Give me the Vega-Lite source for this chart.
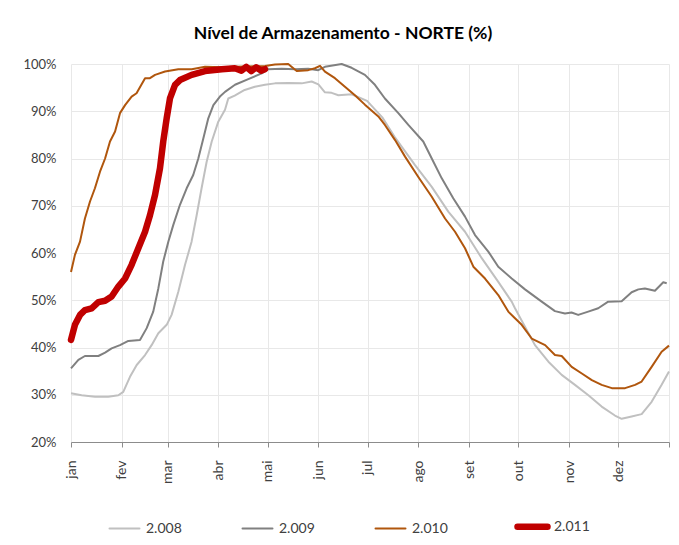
{
  "$schema": "https://vega.github.io/schema/vega-lite/v6.json",
  "autosize": {"type": "none"},
  "width": 598,
  "height": 378,
  "padding": {"left": 71, "top": 64, "right": 10, "bottom": 103},
  "background": "white",
  "title": {
    "text": "Nível de Armazenamento - NORTE (%)",
    "font": "Lato",
    "fontSize": 17.5,
    "fontWeight": "bold",
    "color": "#000000",
    "anchor": "middle",
    "frame": "group",
    "dx": -27,
    "offset": 16
  },
  "config": {
    "view": {"stroke": null},
    "axis": {"labelFont": "Lato", "labelFontSize": 13, "labelColor": "#404040", "gridColor": "#e8e8e8", "gridWidth": 1},
    "legend": {"labelFont": "Lato", "labelFontSize": 14, "labelColor": "#404040"}
  },
  "data": {
    "values": [
      {"s": "2.008", "d": 0, "v": 30.3}, {"s": "2.008", "d": 6.5, "v": 29.9}, {"s": "2.008", "d": 14.6, "v": 29.6}, {"s": "2.008", "d": 22.8, "v": 29.6}, {"s": "2.008", "d": 28.9, "v": 29.9}, {"s": "2.008", "d": 31.9, "v": 30.6}, {"s": "2.008", "d": 36, "v": 33.8}, {"s": "2.008", "d": 40.1, "v": 36.3}, {"s": "2.008", "d": 45.2, "v": 38.4}, {"s": "2.008", "d": 49.2, "v": 40.5}, {"s": "2.008", "d": 53.3, "v": 43.0}, {"s": "2.008", "d": 58.4, "v": 44.8}, {"s": "2.008", "d": 61.4, "v": 46.9}, {"s": "2.008", "d": 65.5, "v": 51.8}, {"s": "2.008", "d": 69.6, "v": 57.5}, {"s": "2.008", "d": 73.6, "v": 62.4}, {"s": "2.008", "d": 76.7, "v": 68.0}, {"s": "2.008", "d": 79.7, "v": 73.7}, {"s": "2.008", "d": 82.8, "v": 79.3}, {"s": "2.008", "d": 85.9, "v": 83.6}, {"s": "2.008", "d": 89.9, "v": 87.8}, {"s": "2.008", "d": 94, "v": 90.3}, {"s": "2.008", "d": 96, "v": 92.7}, {"s": "2.008", "d": 99.9, "v": 93.3}, {"s": "2.008", "d": 106, "v": 94.5}, {"s": "2.008", "d": 112.2, "v": 95.2}, {"s": "2.008", "d": 118.4, "v": 95.6}, {"s": "2.008", "d": 124.5, "v": 95.9}, {"s": "2.008", "d": 132.6, "v": 96.0}, {"s": "2.008", "d": 140.8, "v": 95.9}, {"s": "2.008", "d": 146.9, "v": 96.3}, {"s": "2.008", "d": 151, "v": 95.7}, {"s": "2.008", "d": 155, "v": 94.0}, {"s": "2.008", "d": 159.1, "v": 93.9}, {"s": "2.008", "d": 163.2, "v": 93.4}, {"s": "2.008", "d": 171.3, "v": 93.6}, {"s": "2.008", "d": 180.7, "v": 92.2}, {"s": "2.008", "d": 190, "v": 88.7}, {"s": "2.008", "d": 197.5, "v": 84.6}, {"s": "2.008", "d": 201.8, "v": 82.5}, {"s": "2.008", "d": 210, "v": 78.6}, {"s": "2.008", "d": 220.2, "v": 74.0}, {"s": "2.008", "d": 230.4, "v": 68.7}, {"s": "2.008", "d": 240.5, "v": 64.5}, {"s": "2.008", "d": 250.7, "v": 58.9}, {"s": "2.008", "d": 260.8, "v": 53.9}, {"s": "2.008", "d": 269, "v": 49.7}, {"s": "2.008", "d": 271, "v": 48.3}, {"s": "2.008", "d": 277.1, "v": 44.4}, {"s": "2.008", "d": 283.2, "v": 40.5}, {"s": "2.008", "d": 291.4, "v": 37.0}, {"s": "2.008", "d": 299.5, "v": 34.2}, {"s": "2.008", "d": 307.6, "v": 32.1}, {"s": "2.008", "d": 315.8, "v": 29.9}, {"s": "2.008", "d": 323.9, "v": 27.5}, {"s": "2.008", "d": 332, "v": 25.6}, {"s": "2.008", "d": 336.1, "v": 24.9}, {"s": "2.008", "d": 342.2, "v": 25.4}, {"s": "2.008", "d": 348.3, "v": 25.9}, {"s": "2.008", "d": 354.4, "v": 28.5}, {"s": "2.008", "d": 360.5, "v": 32.1}, {"s": "2.008", "d": 365, "v": 34.9},

      {"s": "2.009", "d": 0, "v": 35.6}, {"s": "2.009", "d": 4.5, "v": 37.4}, {"s": "2.009", "d": 8.5, "v": 38.2}, {"s": "2.009", "d": 16.7, "v": 38.2}, {"s": "2.009", "d": 20.8, "v": 38.9}, {"s": "2.009", "d": 24.8, "v": 39.8}, {"s": "2.009", "d": 29.9, "v": 40.5}, {"s": "2.009", "d": 35, "v": 41.4}, {"s": "2.009", "d": 42.1, "v": 41.6}, {"s": "2.009", "d": 46.2, "v": 44.1}, {"s": "2.009", "d": 50.2, "v": 47.6}, {"s": "2.009", "d": 53.3, "v": 52.5}, {"s": "2.009", "d": 56.3, "v": 58.2}, {"s": "2.009", "d": 59.4, "v": 62.4}, {"s": "2.009", "d": 62.4, "v": 65.9}, {"s": "2.009", "d": 66.5, "v": 70.2}, {"s": "2.009", "d": 70.6, "v": 73.7}, {"s": "2.009", "d": 74.6, "v": 76.5}, {"s": "2.009", "d": 77.7, "v": 80.0}, {"s": "2.009", "d": 80.8, "v": 84.3}, {"s": "2.009", "d": 83.8, "v": 88.5}, {"s": "2.009", "d": 86.9, "v": 91.3}, {"s": "2.009", "d": 90.9, "v": 93.1}, {"s": "2.009", "d": 94, "v": 94.1}, {"s": "2.009", "d": 100.1, "v": 95.6}, {"s": "2.009", "d": 108.2, "v": 96.8}, {"s": "2.009", "d": 116.4, "v": 98.0}, {"s": "2.009", "d": 120.4, "v": 98.9}, {"s": "2.009", "d": 128.6, "v": 99.0}, {"s": "2.009", "d": 136.7, "v": 98.9}, {"s": "2.009", "d": 144.8, "v": 99.0}, {"s": "2.009", "d": 150.9, "v": 98.7}, {"s": "2.009", "d": 155, "v": 99.4}, {"s": "2.009", "d": 165.2, "v": 100.0}, {"s": "2.009", "d": 171.3, "v": 99.2}, {"s": "2.009", "d": 179.4, "v": 97.7}, {"s": "2.009", "d": 185.5, "v": 95.6}, {"s": "2.009", "d": 191.6, "v": 92.7}, {"s": "2.009", "d": 199.8, "v": 89.6}, {"s": "2.009", "d": 205.9, "v": 87.1}, {"s": "2.009", "d": 215, "v": 83.6}, {"s": "2.009", "d": 220.2, "v": 80.0}, {"s": "2.009", "d": 226.3, "v": 75.8}, {"s": "2.009", "d": 233.3, "v": 71.6}, {"s": "2.009", "d": 240.5, "v": 67.7}, {"s": "2.009", "d": 246.6, "v": 63.8}, {"s": "2.009", "d": 254.7, "v": 60.3}, {"s": "2.009", "d": 260.8, "v": 57.1}, {"s": "2.009", "d": 269, "v": 54.6}, {"s": "2.009", "d": 277.1, "v": 52.3}, {"s": "2.009", "d": 287.3, "v": 49.7}, {"s": "2.009", "d": 295.4, "v": 47.7}, {"s": "2.009", "d": 301.5, "v": 47.2}, {"s": "2.009", "d": 305.5, "v": 47.4}, {"s": "2.009", "d": 309.6, "v": 46.9}, {"s": "2.009", "d": 315.7, "v": 47.6}, {"s": "2.009", "d": 321.8, "v": 48.3}, {"s": "2.009", "d": 327.9, "v": 49.7}, {"s": "2.009", "d": 336.1, "v": 49.8}, {"s": "2.009", "d": 342.2, "v": 51.7}, {"s": "2.009", "d": 346.3, "v": 52.3}, {"s": "2.009", "d": 350.3, "v": 52.5}, {"s": "2.009", "d": 356.4, "v": 52.0}, {"s": "2.009", "d": 361.5, "v": 53.8}, {"s": "2.009", "d": 363.6, "v": 53.6},

      {"s": "2.010", "d": 0, "v": 56.0}, {"s": "2.010", "d": 2.4, "v": 59.6}, {"s": "2.010", "d": 5.5, "v": 62.4}, {"s": "2.010", "d": 8.5, "v": 67.3}, {"s": "2.010", "d": 11.6, "v": 70.9}, {"s": "2.010", "d": 14.6, "v": 73.7}, {"s": "2.010", "d": 17.7, "v": 77.2}, {"s": "2.010", "d": 20.8, "v": 80.0}, {"s": "2.010", "d": 23.8, "v": 83.6}, {"s": "2.010", "d": 26.9, "v": 85.7}, {"s": "2.010", "d": 29.9, "v": 89.6}, {"s": "2.010", "d": 33, "v": 91.3}, {"s": "2.010", "d": 37, "v": 93.1}, {"s": "2.010", "d": 40, "v": 93.8}, {"s": "2.010", "d": 45.2, "v": 97.0}, {"s": "2.010", "d": 48.2, "v": 97.0}, {"s": "2.010", "d": 51.3, "v": 97.7}, {"s": "2.010", "d": 57.4, "v": 98.4}, {"s": "2.010", "d": 65.5, "v": 98.9}, {"s": "2.010", "d": 73.7, "v": 98.9}, {"s": "2.010", "d": 81.8, "v": 99.4}, {"s": "2.010", "d": 92, "v": 99.3}, {"s": "2.010", "d": 100.1, "v": 99.4}, {"s": "2.010", "d": 118.4, "v": 99.6}, {"s": "2.010", "d": 124.5, "v": 99.9}, {"s": "2.010", "d": 132.6, "v": 100.0}, {"s": "2.010", "d": 135.7, "v": 99.1}, {"s": "2.010", "d": 137.8, "v": 98.5}, {"s": "2.010", "d": 144.8, "v": 98.7}, {"s": "2.010", "d": 148.9, "v": 99.1}, {"s": "2.010", "d": 152, "v": 99.6}, {"s": "2.010", "d": 155, "v": 98.4}, {"s": "2.010", "d": 161.1, "v": 97.0}, {"s": "2.010", "d": 167.2, "v": 95.2}, {"s": "2.010", "d": 173.3, "v": 93.4}, {"s": "2.010", "d": 179.4, "v": 91.4}, {"s": "2.010", "d": 187.6, "v": 88.9}, {"s": "2.010", "d": 191.6, "v": 87.1}, {"s": "2.010", "d": 197.8, "v": 83.9}, {"s": "2.010", "d": 203.9, "v": 80.4}, {"s": "2.010", "d": 212, "v": 76.1}, {"s": "2.010", "d": 220.2, "v": 71.9}, {"s": "2.010", "d": 228.3, "v": 67.3}, {"s": "2.010", "d": 234.4, "v": 64.5}, {"s": "2.010", "d": 240.5, "v": 61.0}, {"s": "2.010", "d": 245.6, "v": 57.1}, {"s": "2.010", "d": 252.7, "v": 54.6}, {"s": "2.010", "d": 260.8, "v": 51.1}, {"s": "2.010", "d": 266.9, "v": 47.6}, {"s": "2.010", "d": 271, "v": 46.2}, {"s": "2.010", "d": 275.1, "v": 44.8}, {"s": "2.010", "d": 281.2, "v": 41.9}, {"s": "2.010", "d": 289.4, "v": 40.5}, {"s": "2.010", "d": 295.4, "v": 38.4}, {"s": "2.010", "d": 299.5, "v": 38.2}, {"s": "2.010", "d": 305.6, "v": 35.9}, {"s": "2.010", "d": 311.8, "v": 34.5}, {"s": "2.010", "d": 317.9, "v": 33.1}, {"s": "2.010", "d": 323.9, "v": 32.1}, {"s": "2.010", "d": 330.1, "v": 31.4}, {"s": "2.010", "d": 338.2, "v": 31.4}, {"s": "2.010", "d": 344.3, "v": 32.1}, {"s": "2.010", "d": 348.3, "v": 32.8}, {"s": "2.010", "d": 354.4, "v": 35.9}, {"s": "2.010", "d": 360.5, "v": 39.1}, {"s": "2.010", "d": 365, "v": 40.4},

      {"s": "2.011", "d": 0, "v": 41.6}, {"s": "2.011", "d": 2.4, "v": 44.8}, {"s": "2.011", "d": 5.5, "v": 46.9}, {"s": "2.011", "d": 8.5, "v": 47.9}, {"s": "2.011", "d": 12.6, "v": 48.3}, {"s": "2.011", "d": 16.7, "v": 49.6}, {"s": "2.011", "d": 20.8, "v": 49.9}, {"s": "2.011", "d": 24.8, "v": 50.8}, {"s": "2.011", "d": 28.9, "v": 52.9}, {"s": "2.011", "d": 33, "v": 54.6}, {"s": "2.011", "d": 37, "v": 57.5}, {"s": "2.011", "d": 41.1, "v": 61.0}, {"s": "2.011", "d": 45.2, "v": 64.5}, {"s": "2.011", "d": 48.2, "v": 68.0}, {"s": "2.011", "d": 51.3, "v": 72.3}, {"s": "2.011", "d": 54.3, "v": 77.9}, {"s": "2.011", "d": 56.3, "v": 83.6}, {"s": "2.011", "d": 58.4, "v": 88.5}, {"s": "2.011", "d": 60.4, "v": 92.7}, {"s": "2.011", "d": 63.5, "v": 95.6}, {"s": "2.011", "d": 66.5, "v": 96.6}, {"s": "2.011", "d": 73.6, "v": 97.7}, {"s": "2.011", "d": 81.8, "v": 98.5}, {"s": "2.011", "d": 92, "v": 98.9}, {"s": "2.011", "d": 100, "v": 99.1}, {"s": "2.011", "d": 104, "v": 98.6}, {"s": "2.011", "d": 107, "v": 99.4}, {"s": "2.011", "d": 110, "v": 98.5}, {"s": "2.011", "d": 113, "v": 99.3}, {"s": "2.011", "d": 116, "v": 98.6}, {"s": "2.011", "d": 118.4, "v": 98.9}
    ]
  },
  "encoding": {
    "x": {
      "field": "d",
      "type": "quantitative",
      "scale": {"domain": [0, 365], "nice": false, "zero": false},
      "axis": {
        "title": null,
        "values": [0, 31, 59, 90, 120, 151, 181, 212, 243, 273, 304, 334, 365],
        "labelExpr": "['jan','fev','mar','abr','mai','jun','jul','ago','set','out','nov','dez',''][indexof([0,31,59,90,120,151,181,212,243,273,304,334,365], datum.value)]",
        "labelAngle": -90,
        "labelFontSize": 14,
        "labelPadding": 13,
        "domainColor": "#8c8c8c",
        "tickColor": "#8c8c8c",
        "tickSize": 5,
        "labelFlush": false,
        "labelOverlap": false
      }
    },
    "y": {
      "field": "v",
      "type": "quantitative",
      "scale": {"domain": [20, 100], "nice": false, "zero": false},
      "axis": {
        "title": null,
        "values": [20, 30, 40, 50, 60, 70, 80, 90, 100],
        "labelExpr": "datum.value + '%'",
        "domain": false,
        "ticks": false,
        "labelPadding": 15
      }
    },
    "color": {
      "field": "s",
      "type": "nominal",
      "scale": {"domain": ["2.008", "2.009", "2.010", "2.011"], "range": ["#c0c0c0", "#808080", "#b0560d", "#c00000"]},
      "legend": {
        "title": null,
        "orient": "none",
        "legendX": 35,
        "legendY": 444,
        "direction": "horizontal",
        "columns": 4,
        "columnPadding": 56,
        "symbolType": "stroke",
        "symbolSize": 900,
        "labelOffset": 3,
        "encode": {"symbols": {"update": {"strokeCap": {"value": "round"}}}}
      }
    },
    "strokeWidth": {
      "field": "s",
      "type": "nominal",
      "scale": {"type": "ordinal", "domain": ["2.008", "2.009", "2.010", "2.011"], "range": [2, 2, 2, 6.5]},
      "legend": {
        "title": null,
        "orient": "none",
        "legendX": 35,
        "legendY": 444,
        "direction": "horizontal",
        "columns": 4,
        "columnPadding": 56,
        "symbolType": "stroke",
        "symbolSize": 900,
        "labelOffset": 3,
        "encode": {"symbols": {"update": {"strokeCap": {"value": "round"}}}}
      }
    }
  },
  "layer": [
    {
      "transform": [{"filter": "datum.s !== '2.011'"}],
      "mark": {"type": "line", "strokeWidth": 2, "strokeJoin": "round"}
    },
    {
      "transform": [{"filter": "datum.s === '2.011'"}],
      "mark": {"type": "line", "strokeWidth": 6.5, "strokeCap": "round", "strokeJoin": "round"}
    }
  ]
}
